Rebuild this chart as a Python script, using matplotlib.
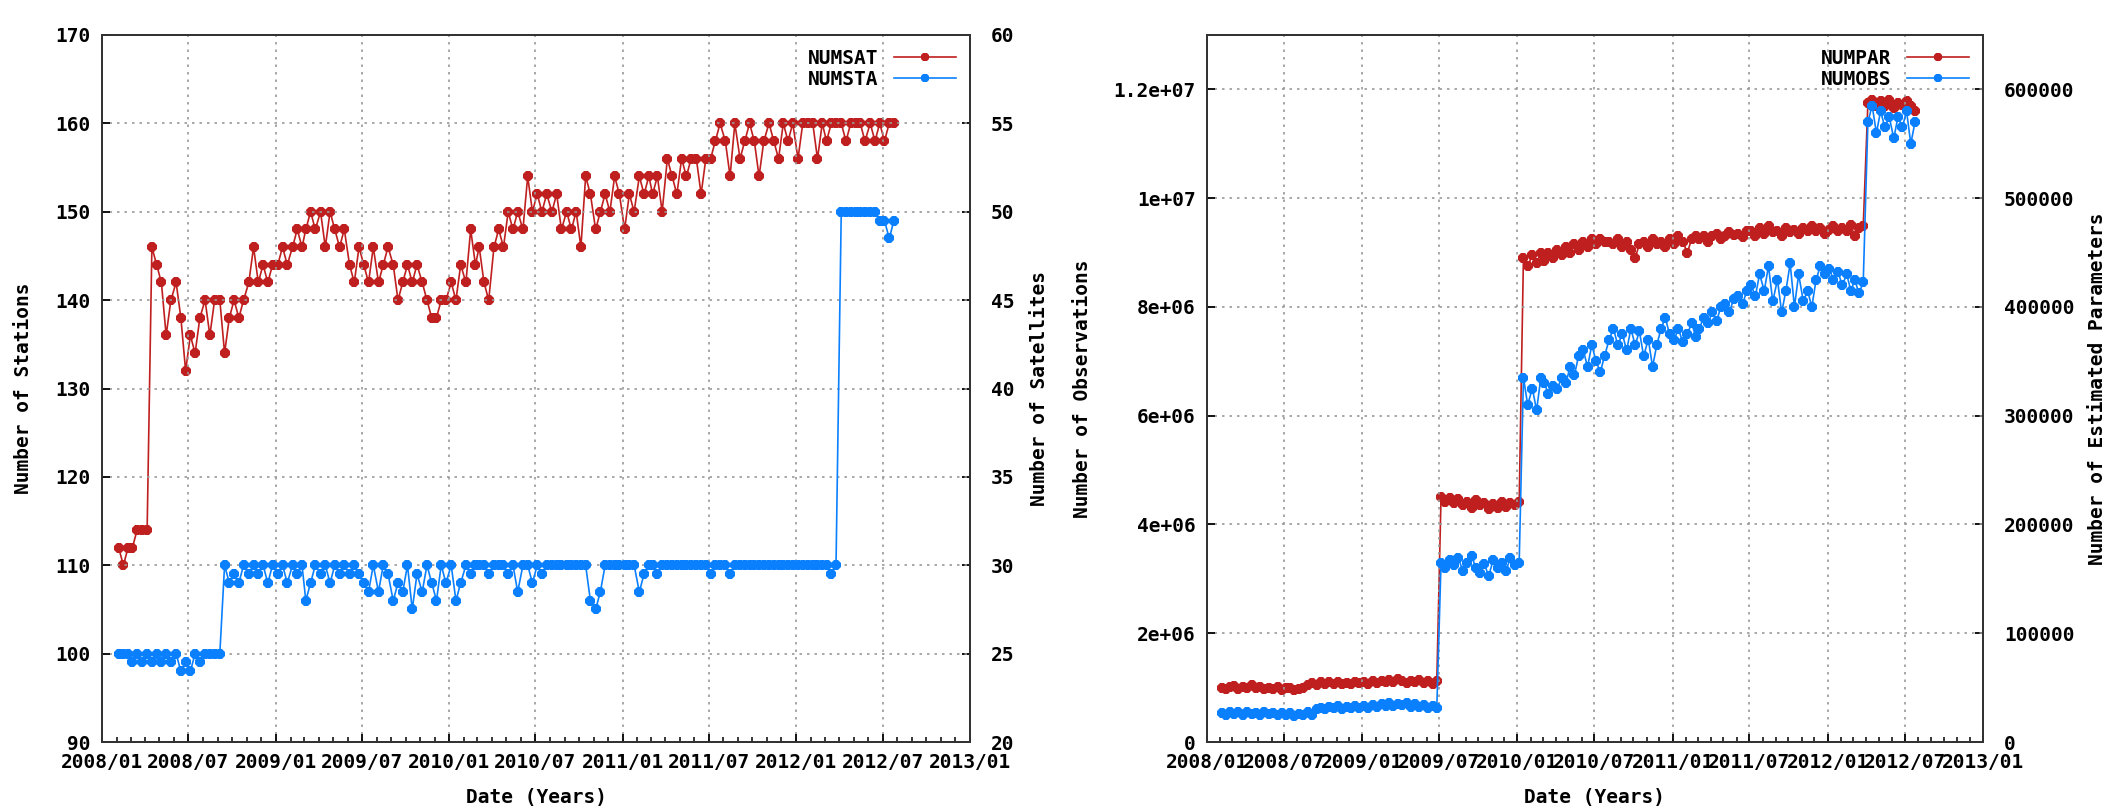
import numpy as np
import pandas as pd
import matplotlib
matplotlib.use("Agg")
import matplotlib.pyplot as plt
import matplotlib.dates as mdates
from matplotlib.ticker import MultipleLocator, FuncFormatter

plt.rcParams['font.family'] = ['DejaVu Sans Mono']
plt.rcParams['font.weight'] = 'bold'
plt.rcParams['axes.labelweight'] = 'bold'
plt.rcParams['font.size'] = 14

# three readings per month (5th, 15th, 25th), Feb 2008 .. Jul 2012
months = pd.date_range('2008-02-01', periods=54, freq='MS')
dates = np.array([m + pd.Timedelta(days=d) for m in months for d in (4, 14, 24)])

# left panel
numsat = [31, 30, 31, 31, 32, 32, 32, 48, 47, 46, 43, 45, 46, 44, 41, 43, 42, 44,
          45, 43, 45, 45, 42, 44, 45, 44, 45, 46, 48, 46, 47, 46, 47,
          47, 48, 47, 48, 49, 48, 49, 50, 49, 50, 48, 50, 49, 48, 49,
          47, 46, 48, 47, 46, 48, 46, 47, 48, 47, 45, 46, 47, 46, 47,
          46, 45, 44, 44, 45, 45, 46, 45, 47, 46, 49, 47, 48, 46, 45,
          48, 49, 48, 50, 49, 50, 49, 52, 50, 51, 50, 51, 50, 51, 49,
          50, 49, 50, 48, 52, 51, 49, 50, 51, 50, 52, 51, 49, 51, 50,
          52, 51, 52, 51, 52, 50, 53, 52, 51, 53, 52, 53, 53, 51, 53,
          53, 54, 55, 54, 52, 55, 53, 54, 55, 54, 52, 54, 55, 54, 53,
          55, 54, 55, 53, 55, 55, 55, 53, 55, 54, 55, 55, 55, 54, 55,
          55, 55, 54, 55, 54, 55, 54, 55, 55]
numsta = [100, 100, 100, 99, 100, 99, 100, 99, 100, 99, 100, 99, 100, 98, 99, 98, 100, 99,
          100, 100, 100, 100, 110, 108, 109, 108, 110, 109, 110, 109, 110, 108, 110,
          109, 110, 108, 110, 109, 110, 106, 108, 110, 109, 110, 108, 110, 109, 110,
          109, 110, 109, 108, 107, 110, 107, 110, 109, 106, 108, 107, 110, 105, 109,
          107, 110, 108, 106, 110, 108, 110, 106, 108, 110, 109, 110, 110, 110, 109,
          110, 110, 110, 109, 110, 107, 110, 110, 108, 110, 109, 110, 110, 110, 110,
          110, 110, 110, 110, 110, 106, 105, 107, 110, 110, 110, 110, 110, 110, 110,
          107, 109, 110, 110, 109, 110, 110, 110, 110, 110, 110, 110, 110, 110, 110,
          109, 110, 110, 110, 109, 110, 110, 110, 110, 110, 110, 110, 110, 110, 110,
          110, 110, 110, 110, 110, 110, 110, 110, 110, 110, 109, 110, 150, 150, 150,
          150, 150, 150, 150, 150, 149, 149, 147, 149]

# right panel
numpar_k = [50, 48.5, 51, 51.5, 49, 50.5, 50, 52, 49.5, 51, 48.5, 50, 49, 50.5, 48, 49.5, 50, 47.5,
            48.5, 50, 52.5, 54, 52.5, 55, 53, 55, 53.5, 55, 53, 54.5, 53.5, 55.5, 54,
            55, 53.5, 56, 54, 56, 55, 57, 55, 57.5, 56, 54.5, 56.5, 55, 57, 54, 56, 53.5, 56,
            225, 221, 224, 220, 223, 217.5, 221, 215, 222.5, 217.5, 220, 214,
            219, 215, 221, 216, 220, 218, 221, 445, 437.5,
            447.5, 440, 450, 442.5, 450, 445, 452.5, 447.5, 455, 450, 457.5, 452.5,
            460, 455, 462.5, 457.5, 462.5, 460, 460, 457.5, 462.5, 455, 460, 452.5,
            445, 457.5, 460, 455, 462.5, 457.5, 460, 455, 462.5, 457.5, 465, 460,
            450, 462.5, 465, 462.5, 465, 460, 465, 467.5, 462.5, 465, 469, 466,
            467.5, 464, 470, 470, 465, 472.5, 467.5, 474, 469, 470, 465, 472.5,
            469, 471, 467.5, 472.5, 470, 474, 470, 472.5, 467.5, 471, 474, 470,
            472.5, 470, 475, 465, 472.5, 474, 587.5, 590, 585, 589, 585, 590,
            582.5, 587.5, 586, 589, 585, 580]
numobs_m = [0.54, 0.5, 0.55, 0.52, 0.56, 0.5, 0.55, 0.51, 0.54, 0.5, 0.55, 0.52,
            0.53, 0.49, 0.54, 0.5, 0.54, 0.48, 0.52, 0.49, 0.55, 0.5, 0.6, 0.63,
            0.6, 0.65, 0.62, 0.66, 0.61, 0.65, 0.63, 0.67, 0.62, 0.66, 0.63, 0.68,
            0.64, 0.7, 0.66, 0.72, 0.66, 0.7, 0.68, 0.72, 0.65, 0.7, 0.64, 0.68,
            0.63, 0.67, 0.62, 3.3, 3.2, 3.35, 3.25, 3.38, 3.15, 3.3, 3.42, 3.2,
            3.1, 3.28, 3.05, 3.35, 3.2, 3.3, 3.15, 3.38, 3.25, 3.3, 6.7, 6.2,
            6.5, 6.1, 6.7, 6.6, 6.4, 6.55, 6.5, 6.7, 6.6, 6.9, 6.75, 7.1,
            7.2, 6.9, 7.3, 7.0, 6.8, 7.1, 7.4, 7.6, 7.3, 7.5, 7.2, 7.6,
            7.3, 7.55, 7.1, 7.4, 6.9, 7.3, 7.6, 7.8, 7.5, 7.4, 7.6, 7.35,
            7.5, 7.7, 7.45, 7.6, 7.8, 7.7, 7.9, 7.75, 8.0, 8.05, 7.9, 8.15,
            8.2, 8.05, 8.3, 8.4, 8.2, 8.6, 8.3, 8.75, 8.1, 8.5, 7.9, 8.3,
            8.8, 8.0, 8.6, 8.1, 8.3, 8.0, 8.5, 8.75, 8.6, 8.7, 8.5, 8.65,
            8.4, 8.6, 8.3, 8.5, 8.25, 8.45, 11.4, 11.7, 11.2, 11.6, 11.3, 11.5,
            11.1, 11.5, 11.3, 11.6, 11.0, 11.4]

numpar = np.array(numpar_k) * 1000
numobs = np.array(numobs_m) * 1e6

red = '#c01f1f'
blue = '#0a80ff'
fig = plt.figure(figsize=(21.13, 8.08), dpi=100)


def style(ax, ax2):
    ax.set_xlim(pd.Timestamp('2008-01-01'), pd.Timestamp('2013-01-01'))
    ax.xaxis.set_major_locator(mdates.MonthLocator(bymonth=[1, 7]))
    ax.xaxis.set_minor_locator(mdates.MonthLocator())
    ax.xaxis.set_major_formatter(mdates.DateFormatter('%Y/%m'))
    ax.grid(True, which='major', color='#999999', linestyle=(0, (1.5, 3)), lw=1.2)
    ax.tick_params(axis='x', which='major', direction='in', length=6, width=1.3, pad=8, top=False)
    ax.tick_params(axis='x', which='minor', direction='in', length=3.5, width=1.1, top=False)
    ax.tick_params(axis='y', direction='in', length=6, width=1.3, pad=8, right=False)
    ax2.tick_params(axis='y', direction='in', length=6, width=1.3, pad=15)
    for a in (ax, ax2):
        for s in a.spines.values():
            s.set_linewidth(1.4)
            s.set_color('#333333')
    ax.set_zorder(ax2.get_zorder() + 1)
    ax.patch.set_visible(False)
    ax.yaxis.label.set_va('center')
    ax2.yaxis.label.set_va('center')
    ax.xaxis.label.set_va('center')


kw = dict(lw=1.2, marker='8', ms=8, mew=0)
leg = dict(loc='upper right', frameon=False, markerfirst=False, handlelength=3.2,
           handletextpad=0.8, labelspacing=0.1, borderaxespad=0.3, fontsize=14, markerscale=0.8)

# ---- left
ax = fig.add_axes([102 / 2113, 66 / 808, 868 / 2113, 707 / 808])
ax2 = ax.twinx()
l2, = ax2.plot(dates, numsat, color=red, label='NUMSAT', **kw)
l1, = ax.plot(dates, numsta, color=blue, label='NUMSTA', **kw)
ax.set_ylim(90, 170)
ax.yaxis.set_major_locator(MultipleLocator(10))
ax2.set_ylim(20, 60)
ax2.yaxis.set_major_locator(MultipleLocator(5))
ax.set_xlabel('Date (Years)')
ax.set_ylabel('Number of Stations')
ax2.set_ylabel('Number of Satellites', rotation=90)
style(ax, ax2)
ax.xaxis.set_label_coords(0.5, -(798 - 742) / 707)
ax.yaxis.set_label_coords((24 - 102) / 868, 0.5)
ax2.yaxis.set_label_coords((1040 - 102) / 868, 0.5)
ax.legend([l2, l1], ['NUMSAT', 'NUMSTA'], **leg)

# ---- right
bx = fig.add_axes([1207 / 2113, 66 / 808, 776 / 2113, 707 / 808])
bx2 = bx.twinx()
m2, = bx2.plot(dates, numpar, color=red, label='NUMPAR', **kw)
m1, = bx.plot(dates, numobs, color=blue, label='NUMOBS', **kw)
bx.set_ylim(0, 1.3e7)
bx.yaxis.set_major_locator(MultipleLocator(2e6))
bx.yaxis.set_major_formatter(FuncFormatter(lambda v, p: '%g' % v))
bx2.set_ylim(0, 650000)
bx2.yaxis.set_major_locator(MultipleLocator(100000))
bx2.yaxis.set_major_formatter(FuncFormatter(lambda v, p: '%d' % v))
bx.set_xlabel('Date (Years)')
bx.set_ylabel('Number of Observations')
bx2.set_ylabel('Number of Estimated Parameters', rotation=90)
style(bx, bx2)
bx.xaxis.set_label_coords(0.5, -(798 - 742) / 707)
bx.yaxis.set_label_coords((1082 - 1207) / 776, 0.5)
bx2.yaxis.set_label_coords((2098 - 1207) / 776, 0.5)
bx.legend([m2, m1], ['NUMPAR', 'NUMOBS'], **leg)

fig.savefig('out.png', dpi=100)
